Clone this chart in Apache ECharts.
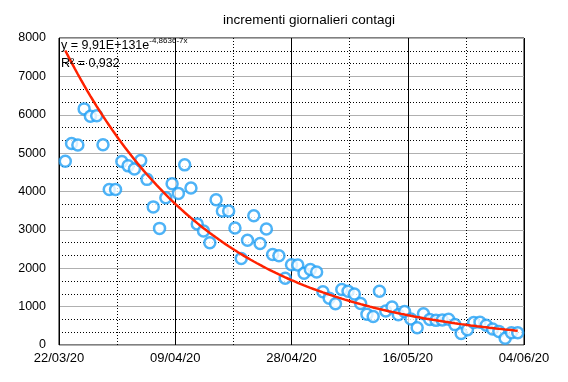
<!DOCTYPE html>
<html>
<head>
<meta charset="utf-8">
<script src="https://cdn.jsdelivr.net/npm/echarts@6/dist/echarts.min.js"></script>
<style>html,body{margin:0;padding:0;background:#fff}#c{width:568px;height:382px}</style>
</head>
<body>
<div id="c"></div>
<script>
// Dates (day/month 2020) and daily new cases
const dates = ['23/03','24/03','25/03','26/03','27/03','28/03','29/03','30/03','31/03',
  '01/04','02/04','03/04','04/04','05/04','06/04','07/04','08/04','09/04','10/04','11/04','12/04','13/04','14/04','15/04','16/04','17/04','18/04','19/04','20/04','21/04','22/04','23/04','24/04','25/04','26/04','27/04','28/04','29/04','30/04',
  '01/05','02/05','03/05','04/05','05/05','06/05','07/05','08/05','09/05','10/05','11/05','12/05','13/05','14/05','15/05','16/05','17/05','18/05','19/05','20/05','21/05','22/05','23/05','24/05','25/05','26/05','27/05','28/05','29/05','30/05','31/05',
  '01/06','02/06','03/06'];
const cases = [4789,5249,5210,6153,5959,5974,5217,4050,4053,
  4782,4668,4585,4805,4316,3599,3039,3836,4204,3951,4694,4092,3153,2972,2667,3786,3493,3491,3047,2256,2729,3370,2646,3021,2357,2324,1739,2091,2086,1872,
  1965,1900,1389,1221,1075,1444,1401,1327,1083,802,744,1402,888,992,789,875,675,451,813,665,642,652,669,531,300,397,584,593,516,416,355,
  178,318,321];
const xTickLabels = ['22/03/20','09/04/20','28/04/20','16/05/20','04/06/20'];
const axisStart = '22/03';
const yMax = 8000;

function dayIndex(s){
  const [d,m] = s.split('/').map(Number);
  const [d0,m0] = axisStart.split('/').map(Number);
  return Math.round((Date.UTC(2020,m-1,d) - Date.UTC(2020,m0-1,d0))/86400000);
}
const xs = dates.map(dayIndex);
const pts = xs.map((x,i)=>[x,cases[i]]);
const span = dayIndex('04/06');

// exponential least-squares fit (log-linear), as a spreadsheet trendline does
const n = xs.length;
const ly = cases.map(v=>Math.log(v));
const mx = xs.reduce((a,b)=>a+b,0)/n, my = ly.reduce((a,b)=>a+b,0)/n;
let sxy=0,sxx=0; for(let i=0;i<n;i++){sxy+=(xs[i]-mx)*(ly[i]-my);sxx+=(xs[i]-mx)**2;}
const k = sxy/sxx, b0 = my - k*mx;
const trend = [];
for(let x=xs[0]; x<=xs[n-1]; x+=0.5) trend.push([x, Math.exp(b0 + k*x)]);

const chart = echarts.init(document.getElementById('c'));
const step = span/(xTickLabels.length-1);
chart.setOption({
  animation:false,
  backgroundColor:'#fff',
  title:{text:'incrementi giornalieri contagi',left:304,top:8,textAlign:'center',
    textStyle:{fontFamily:'Liberation Sans',fontSize:13.5,fontWeight:'normal',color:'#000'}},
  grid:{left:59,right:44,top:38,bottom:37,show:true,borderColor:'#000',borderWidth:1,backgroundColor:'transparent'},
  xAxis:{type:'value',min:0,max:span,interval:step,
    axisLine:{show:false},axisTick:{show:false},
    axisLabel:{margin:7,fontFamily:'Liberation Sans',fontSize:13,color:'#000',
      formatter:(v)=>{const i=Math.round(v/step);return xTickLabels[i]||'';}},
    splitLine:{show:true,lineStyle:{color:'#000',width:1}},
    minorTick:{show:false,splitNumber:2},
    minorSplitLine:{show:true,lineStyle:{color:'#000',width:1,type:[1,2]}}},
  yAxis:{type:'value',min:0,max:yMax,interval:1000,
    axisLine:{show:false},axisTick:{show:false},
    axisLabel:{margin:13,fontFamily:'Liberation Sans',fontSize:12.5,color:'#000',formatter:(v)=>String(v)},
    splitLine:{show:true,lineStyle:{color:'#b0b0b0',width:1}},
    minorTick:{show:false,splitNumber:3},
    minorSplitLine:{show:true,lineStyle:{color:'#000',width:1,type:[1,2]}}},
  series:[
    {type:'scatter',data:pts,symbol:'circle',symbolSize:11,z:2,
      itemStyle:{color:'#fff',borderColor:'#22a0f5',borderWidth:2.5}},
    {type:'line',data:trend,showSymbol:false,symbol:'none',z:3,
      lineStyle:{color:'#ff2200',width:2.5}}
  ],
  graphic:[{type:'text',left:61,top:37,z:10,
    style:{text:'{a|y = 9,91E+131e}{s|-4,8636-7x}\n{a|R² = 0,932}',
      rich:{a:{fontFamily:'Liberation Sans',fontSize:12.5,fill:'#000',lineHeight:18},
            s:{fontFamily:'Liberation Sans',fontSize:8,fill:'#000',verticalAlign:'top',lineHeight:18}}}}]
});
</script>
</body>
</html>
